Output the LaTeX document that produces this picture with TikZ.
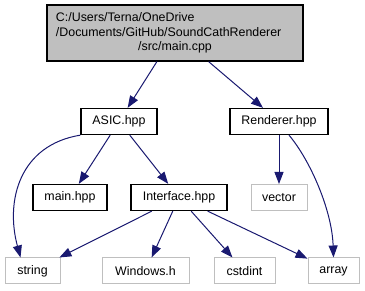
\documentclass[tikz,border=0pt]{standalone}
\usepackage{fontspec}
\setmainfont{Liberation Sans}
\usetikzlibrary{arrows.meta}

\definecolor{edgeblue}{RGB}{25,25,112}
\definecolor{boxgray}{RGB}{191,191,191}

\tikzset{
  file/.style={draw=black,line width=1.3pt,minimum height=26pt,inner sep=2pt,
    font=\fontsize{12.4}{14.5}\selectfont},
  sysfile/.style={file,draw=boxgray,line width=1pt},
  dep/.style={draw=edgeblue,line width=1pt,-{Triangle[length=12pt,width=9pt]}}
}

\begin{document}
\begin{tikzpicture}[x=1pt,y=-1pt]
    \useasboundingbox (0,0) rectangle (365,291);

    \node[file,fill=boxgray,minimum width=256pt,minimum height=56pt,
      text width=238pt,align=center] (main) at (175,33)
      {\makebox[\linewidth][l]{C:/Users/Terna/OneDrive}\\
       \makebox[\linewidth][l]{/Documents/GitHub/SoundCathRenderer}\\
       /src/main.cpp};

    \node[file,minimum width=76pt] (asic) at (119,121.5) {ASIC.hpp};
    \node[file,minimum width=98pt] (renderer) at (279,121.5) {Renderer.hpp};

    \node[file,minimum width=74pt] (mainhpp) at (70,197.5) {main.hpp};
    \node[file,minimum width=96pt] (iface) at (179,197.5) {Interface.hpp};
    \node[sysfile,minimum width=56pt] (vector) at (279,197.5) {vector};

    \node[sysfile,minimum width=55pt] (string) at (32.5,271) {string};
    \node[sysfile,minimum width=87pt] (windows) at (145.5,271) {Windows.h};
    \node[sysfile,minimum width=61pt] (cstdint) at (244.5,271) {cstdint};
    \node[sysfile,minimum width=51pt] (array) at (333.5,271) {array};

    \draw[dep] (main) -- (asic);
    \draw[dep] (main) -- (renderer);

    \draw[dep] (asic.south west) .. controls (20,145) and (5,200) .. ([xshift=-12pt]string.north);
    \draw[dep] (asic) -- (mainhpp);
    \draw[dep] (asic) -- (iface);

    \draw[dep] (renderer) -- (vector);
    \draw[dep] ([xshift=10pt]renderer.south) .. controls (310,160) and (332,210) .. (array.north);

    \draw[dep] (iface) -- (string);
    \draw[dep] (iface) -- (windows);
    \draw[dep] (iface) -- (cstdint);
    \draw[dep] (iface) -- (array);
\end{tikzpicture}
\end{document}
